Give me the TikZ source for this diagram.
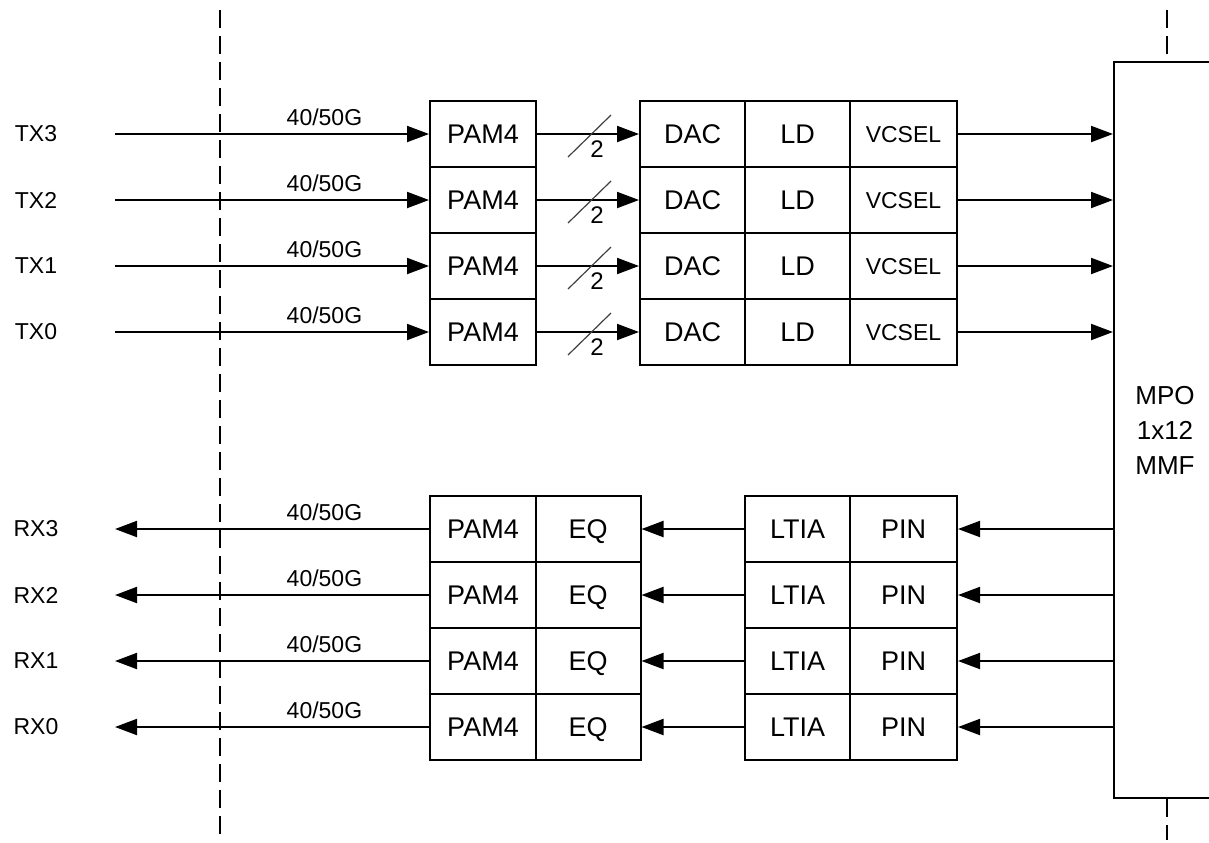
\documentclass[tikz,border=0pt]{standalone}
\usepackage{fontspec}
\setmainfont{Liberation Sans}
\usetikzlibrary{arrows.meta}

\begin{document}
\begin{tikzpicture}[x=0.5pt, y=-0.5pt, line width=1pt,
  >={Triangle[length=11pt,width=8pt]},
  every node/.style={font=\fontsize{11.5}{13}\selectfont},
  cell/.style={draw, minimum width=52.5pt, minimum height=33pt, inner sep=0pt, text height=9.7pt, text depth=0pt, font=\fontsize{13.5}{16}\selectfont},
  rate/.style={pos=0.667, anchor=base, yshift=4.5pt}]
\useasboundingbox (0,0) rectangle (1209,842);

% MPO connector
\node[draw, minimum width=51pt, minimum height=368pt, align=center, font=\fontsize{13}{17.5}\selectfont] (mpo) at (1165,430) {MPO\\1x12\\MMF};

% dashed boundaries
\coordinate (dl1) at (220,10);
\coordinate (dl2) at (220,840);
\coordinate (dr1) at (1167,10);
\coordinate (dr2) at (1167,840);
\draw[dash pattern=on 9pt off 4pt] (dl1) -- (dl2);
\draw[dash pattern=on 9pt off 4pt] (dr1) -- (dr1 |- mpo.north);
\draw[dash pattern=on 9pt off 4pt] (dr1 |- mpo.south) -- (dr2);

% TX
\foreach \i/\y in {3/134, 2/200, 1/266, 0/332} {
  \node (tx\i) at (36,\y) {TX\i};
  \coordinate (txs\i) at (115,\y);
  \node[cell, minimum width=53pt] (pamt\i) at (483,\y) {PAM4};
  \node[cell] (dac\i) at (692.5,\y) {DAC};
  \node[cell] (ld\i) at (797.5,\y) {LD};
  \node[cell, minimum width=53.5pt, font=\fontsize{11.5}{13}\selectfont, text height=8.3pt] (vcsel\i) at (903.5,\y) {VCSEL};
  \draw[->] (txs\i) -- (pamt\i) node[rate] {40/50G};
  \draw[->] (pamt\i) -- (dac\i);
  \draw[->] (vcsel\i) -- (vcsel\i -| mpo.west);
  % bus width mark
  \coordinate (bus\i) at (590,\y);
  \draw[line width=0.6pt, black!75] ([shift={(-22,23)}]bus\i) -- ([shift={(21,-19)}]bus\i);
  \node[font=\fontsize{12}{14}\selectfont] (w\i) at (597,{\y+15}) {2};
}

% RX
\foreach \i/\y in {3/529, 2/595, 1/661, 0/727} {
  \node (rx\i) at (36,\y) {RX\i};
  \coordinate (rxe\i) at (115,\y);
  \node[cell, minimum width=53pt] (pamr\i) at (483,\y) {PAM4};
  \node[cell] (eq\i) at (588,\y) {EQ};
  \node[cell] (ltia\i) at (797.5,\y) {LTIA};
  \node[cell, minimum width=53.5pt] (pin\i) at (903.5,\y) {PIN};
  \draw[->] (pin\i -| mpo.west) -- (pin\i);
  \draw[->] (ltia\i) -- (eq\i);
  \draw[->] (pamr\i) -- (rxe\i) node[rate, pos=0.333] {40/50G};
}
\end{tikzpicture}
\end{document}
